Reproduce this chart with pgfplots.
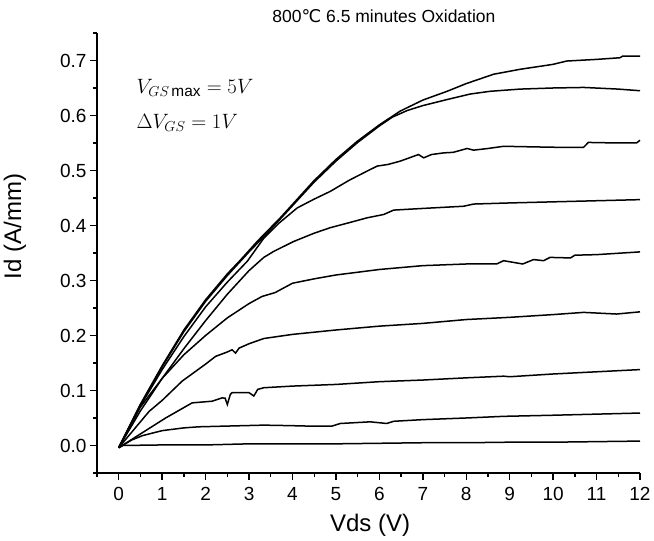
\documentclass[border=0pt]{standalone}
\usepackage{fontspec}
\setmainfont{Liberation Sans}
\newfontfamily\dejavu{DejaVu Sans}
\usepackage{pgfplots}
\pgfplotsset{compat=1.18}
\begin{document}
\begin{tikzpicture}
\begin{axis}[
 scale only axis, width=543pt, height=440pt,
 xmin=-0.5, xmax=12, ymin=-0.05, ymax=0.75,
 axis x line*=bottom, axis y line*=left,
 axis line style={line width=1.6pt},
 xtick={0,1,2,3,4,5,6,7,8,9,10,11,12},
 ytick={0,0.1,0.2,0.3,0.4,0.5,0.6,0.7},
 minor xtick={-0.5,0.5,1.5,2.5,3.5,4.5,5.5,6.5,7.5,8.5,9.5,10.5,11.5},
 minor ytick={-0.05,0.05,0.15,0.25,0.35,0.45,0.55,0.65,0.75},
 tick align=outside,
 major tick length=7pt, minor tick length=4pt,
 tick style={line width=1.4pt, black},
 yticklabel style={/pgf/number format/.cd, fixed, fixed zerofill, precision=1},
 xticklabel style={yshift=-3.5pt},
 /pgf/number format/assume math mode=true,
 ticklabel style={font=\fontsize{19}{22}\selectfont},
 xlabel={Vds (V)}, ylabel={Id (A/mm)},
 every axis x label/.style={at={(axis description cs:0.503,0)}, anchor=base, yshift=-59pt, font=\fontsize{24}{28}\selectfont},
 every axis y label/.style={at={(axis description cs:0,0.56)}, anchor=center, rotate=90, yshift=82pt, font=\fontsize{24}{28}\selectfont},
 title={800{\dejavu ℃} 6.5 minutes Oxidation},
 every axis title/.style={at={(axis description cs:0.5285,1)}, anchor=base, yshift=10.5pt, font=\fontsize{17.5}{20}\selectfont},
 clip=false,
 curve/.style={black, line width=1.5pt, mark=none},
]
% VGS = 5 V
\addplot[curve] coordinates {(0,-0.004) (0.5,0.075) (1,0.145) (1.5,0.21) (2,0.265) (2.5,0.312) (2.8,0.337) (3.2,0.372) (3.72,0.414) (4.1,0.447) (4.49,0.481) (5,0.52) (5.49,0.553) (6,0.583) (6.48,0.608) (7,0.628) (7.56,0.644) (8,0.658) (8.63,0.675) (9.24,0.684) (10,0.693) (10.31,0.699) (11,0.702) (11.54,0.705) (11.6,0.708) (12,0.708)};
% VGS = 4 V
\addplot[curve] coordinates {(0,-0.004) (0.5,0.074) (1,0.143) (1.5,0.207) (2,0.262) (2.5,0.309) (3,0.352) (3.5,0.393) (4,0.436) (4.5,0.479) (5,0.517) (5.5,0.551) (6,0.581) (6.3,0.597) (6.64,0.609) (7,0.618) (7.56,0.629) (8.09,0.639) (8.55,0.644) (9.24,0.648) (10,0.650) (10.7,0.651) (11.5,0.648) (12,0.645)};
% VGS = 3 V
\addplot[curve] coordinates {(0,-0.004) (0.5,0.072) (1,0.138) (1.5,0.198) (2,0.252) (2.5,0.297) (2.96,0.335) (3.34,0.377) (3.7,0.405) (4.11,0.432) (4.5,0.448) (4.87,0.462) (5.3,0.482) (5.72,0.499) (5.95,0.508) (6.2,0.511) (6.48,0.517) (6.9,0.529) (7.02,0.523) (7.2,0.529) (7.48,0.532) (7.7,0.533) (8.02,0.540) (8.17,0.537) (8.5,0.540) (8.86,0.544) (9.5,0.543) (10.2,0.542) (10.7,0.542) (10.81,0.551) (11.5,0.550) (11.92,0.550) (12,0.555)};
% VGS = 2 V
\addplot[curve] coordinates {(0,-0.004) (0.5,0.063) (1,0.122) (1.5,0.176) (2,0.227) (2.5,0.275) (3,0.318) (3.34,0.342) (3.57,0.353) (4.03,0.371) (4.5,0.386) (4.87,0.396) (5.3,0.405) (5.72,0.414) (6.1,0.420) (6.33,0.428) (7,0.431) (7.94,0.435) (8.17,0.439) (9,0.441) (10,0.443) (11,0.445) (12,0.447)};
% VGS = 1 V
\addplot[curve] coordinates {(0,-0.004) (0.5,0.07) (1,0.122) (1.5,0.165) (2,0.2) (2.5,0.232) (3,0.258) (3.3,0.271) (3.6,0.278) (4,0.295) (4.5,0.303) (5,0.31) (5.5,0.315) (6,0.32) (7,0.327) (8,0.33) (8.7,0.33) (8.86,0.336) (9.3,0.330) (9.55,0.338) (9.78,0.336) (9.93,0.342) (10.4,0.341) (10.5,0.346) (11,0.347) (12,0.352)};
% VGS = 0 V
\addplot[curve] coordinates {(0,-0.004) (0.7,0.062) (1,0.082) (1.46,0.117) (2,0.148) (2.23,0.162) (2.5,0.17) (2.61,0.174) (2.69,0.168) (2.77,0.177) (3,0.185) (3.34,0.1945) (4,0.202) (5,0.21) (6,0.217) (7,0.222) (8,0.229) (9,0.233) (10,0.238) (10.7,0.242) (11.46,0.239) (12,0.243)};
% VGS = -1 V
\addplot[curve] coordinates {(0,-0.004) (0.54,0.023) (1.08,0.05) (1.69,0.0775) (2.15,0.0805) (2.38,0.0866) (2.45,0.086) (2.5,0.0745) (2.57,0.093) (2.61,0.096) (3.0,0.096) (3.11,0.090) (3.2,0.102) (3.34,0.105) (4,0.108) (5,0.111) (6,0.116) (7,0.119) (8,0.123) (8.86,0.126) (9,0.125) (10,0.130) (11,0.134) (12,0.138)};
% VGS = -2 V
\addplot[curve] coordinates {(0,-0.004) (0.3,0.01) (0.55,0.018) (1.0,0.027) (1.5,0.032) (1.85,0.034) (3.34,0.037) (4,0.036) (4.5,0.035) (4.9,0.035) (5.1,0.04) (5.79,0.043) (6.17,0.040) (6.33,0.044) (7,0.047) (8,0.05) (8.86,0.053) (10,0.055) (11,0.057) (12,0.059)};
% VGS = -3 V
\addplot[curve] coordinates {(0,-0.004) (0.1,0.0) (1,0.001) (2,0.001) (3,0.003) (4,0.003) (5,0.003) (6,0.004) (7,0.005) (8,0.005) (9,0.006) (10,0.006) (11,0.007) (12,0.008)};
\node[anchor=base west, font=\fontsize{22}{26}\selectfont] at (axis cs:0.33,0.64) {$V_{GS\max} = 5V$};
\node[anchor=base west, font=\fontsize{22}{26}\selectfont] at (axis cs:0.33,0.577) {$\Delta V_{GS} = 1V$};
\end{axis}
\path ([shift={(-97pt,-67pt)}]current axis.south west) rectangle ([shift={(14pt,33pt)}]current axis.north east);
\end{tikzpicture}
\end{document}
